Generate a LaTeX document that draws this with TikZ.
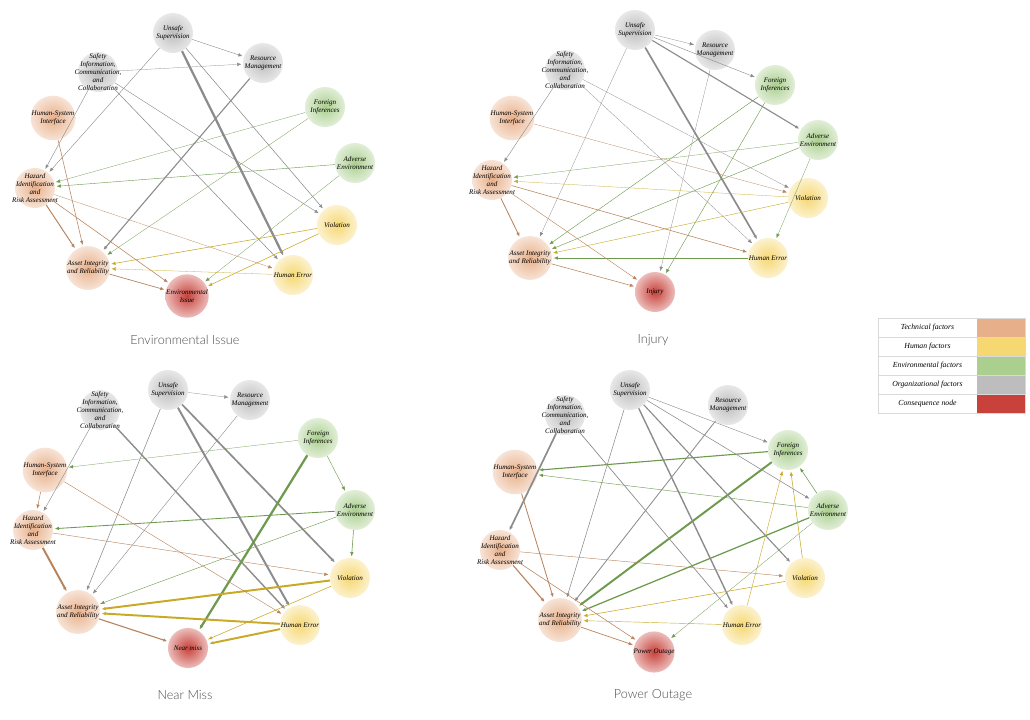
\documentclass[tikz,border=0pt]{standalone}
\usepackage{fontspec}
\setmainfont{Liberation Serif}
\newfontfamily\capfont{Lato Light}
\usetikzlibrary{arrows.meta}
\definecolor{techC}{HTML}{E8B08A}
\definecolor{humC}{HTML}{F6D873}
\definecolor{envC}{HTML}{AACF8E}
\definecolor{orgC}{HTML}{BDBDBD}
\definecolor{conC}{HTML}{C8413A}
\definecolor{T}{HTML}{B8845E}
\definecolor{H}{HTML}{C9A928}
\definecolor{E}{HTML}{6E9A4E}
\definecolor{O}{HTML}{8C8C8C}
\tikzset{
  factor/.style={circle, minimum size=1cm, inner sep=0pt, align=center,
    font=\fontsize{5}{5.6}\selectfont\itshape,
    inner color=#1, outer color=#1!35!white},
  tech/.style={factor=techC},
  hum/.style={factor=humC},
  env/.style={factor=envC},
  org/.style={factor=orgC},
  cons/.style={factor=conC},
  wide/.style={inner sep=-9pt},
  link/.style={-{Latex[length=3pt,width=2.5pt]}, shorten >=1pt},
  caption/.style={font=\capfont\fontsize{9}{10}\selectfont, text=black!70},
  legtext/.style={font=\fontsize{5.5}{6}\selectfont\itshape, anchor=center}
}
\begin{document}
\begin{tikzpicture}[x=0.025cm, y=-0.025cm]
\useasboundingbox (0,0) rectangle (1030,719);
%% panel A: Environmental Issue
\node[org]  (a-us) at (173,33)  {Unsafe\\Supervision};
\node[org]  (a-rm) at (263,63)  {Resource\\Management};
\node[org, wide]  (a-si) at (98,72)   {Safety\\Information,\\Communication,\\and\\Collaboration};
\node[tech] (a-hs) at (53,118)  {Human-System\\Interface};
\node[env]  (a-fi) at (325,107) {Foreign\\Inferences};
\node[env]  (a-ae) at (355,163) {Adverse\\Environment};
\node[tech, wide] (a-hz) at (35,188)  {Hazard\\Identification\\and\\Risk Assessment};
\node[hum]  (a-vi) at (337,225) {Violation};
\node[tech] (a-ai) at (88,268)  {Asset Integrity\\and Reliability};
\node[hum]  (a-he) at (293,275) {Human Error};
\node[cons] (a-co) at (187,296) {Environmental\\Issue};
\node[caption] (a-cap) at (185,340) {Environmental Issue};
\foreach \s/\t/\c/\w in {us/rm/O/0.3, si/rm/O/0.2, us/hz/O/0.3, si/hz/O/0.3,
    us/he/O/1.6, us/vi/O/0.4, si/he/O/0.4, si/vi/O/0.3, rm/ai/O/0.8,
    fi/hz/E/0.2, fi/ai/E/0.2, ae/hz/E/0.3, ae/co/E/0.2, vi/ai/H/0.4,
    vi/co/H/0.4, he/ai/H/0.2, hz/ai/T/0.7, hs/ai/T/0.4, hz/co/T/0.4,
    hz/he/T/0.2, ai/co/T/0.5}
  \draw[link, draw=\c, line width=\w pt] (a-\s) -- (a-\t);
%% panel B: Injury
\node[org]  (b-us) at (635,30)  {Unsafe\\Supervision};
\node[org]  (b-rm) at (715,50)  {Resource\\Management};
\node[org, wide]  (b-si) at (565,70)  {Safety\\Information,\\Communication,\\and\\Collaboration};
\node[tech] (b-hs) at (512,118) {Human-System\\Interface};
\node[env]  (b-fi) at (775,85)  {Foreign\\Inferences};
\node[env]  (b-ae) at (818,140) {Adverse\\Environment};
\node[tech, wide] (b-hz) at (492,180) {Hazard\\Identification\\and\\Risk Assessment};
\node[hum]  (b-vi) at (808,198) {Violation};
\node[tech] (b-ai) at (530,258) {Asset Integrity\\and Reliability};
\node[hum]  (b-he) at (768,258) {Human Error};
\node[cons] (b-co) at (655,292) {Injury};
\node[caption] (b-cap) at (653,340) {Injury};
\foreach \s/\t/\c/\w in {us/rm/O/0.2, us/fi/O/0.3, us/ae/O/0.8, us/he/O/1.2,
    si/hz/O/0.3, si/vi/O/0.2, si/he/O/0.2, us/ai/O/0.2, rm/co/O/0.2,
    fi/ai/E/0.3, fi/co/E/0.3, ae/hz/E/0.2, ae/ai/E/0.3, ae/he/E/0.2,
    vi/hz/H/0.2, vi/ai/H/0.3, he/ai/E/0.5, hz/ai/T/0.6, hz/co/T/0.3,
    hz/he/T/0.4, hs/vi/T/0.2, ai/co/T/0.4}
  \draw[link, draw=\c, line width=\w pt] (b-\s) -- (b-\t);
%% panel C: Near Miss
\node[org]  (c-us) at (168,390) {Unsafe\\Supervision};
\node[org]  (c-rm) at (250,400) {Resource\\Management};
\node[org, wide]  (c-si) at (100,410) {Safety\\Information,\\Communication,\\and\\Collaboration};
\node[tech] (c-hs) at (45,470)  {Human-System\\Interface};
\node[env]  (c-fi) at (318,438) {Foreign\\Inferences};
\node[env]  (c-ae) at (355,510) {Adverse\\Environment};
\node[tech, wide] (c-hz) at (33,530)  {Hazard\\Identification\\and\\Risk Assessment};
\node[hum]  (c-vi) at (350,578) {Violation};
\node[tech] (c-ai) at (78,612)  {Asset Integrity\\and Reliability};
\node[hum]  (c-he) at (300,625) {Human Error};
\node[cons] (c-co) at (188,648) {Near miss};
\node[caption] (c-cap) at (185,695) {Near Miss};
\foreach \s/\t/\c/\w in {us/rm/O/0.2, si/hz/O/0.3, us/he/O/1.4, us/vi/O/1.2,
    si/he/O/1.0, rm/ai/O/0.3, us/ai/O/0.4, fi/co/E/1.6, fi/ae/E/0.3,
    fi/hs/E/0.2, ae/hz/E/0.6, ae/vi/E/0.4, ae/ai/E/0.3, vi/ai/H/1.4,
    he/ai/H/1.4, he/co/H/1.4, vi/co/H/0.4, hz/ai/T/1.4, hs/hz/T/0.4,
    hs/he/T/0.3, hz/vi/T/0.3, ai/co/T/0.8}
  \draw[link, draw=\c, line width=\w pt] (c-\s) -- (c-\t);
%% panel D: Power Outage
\node[org]  (d-us) at (630,390) {Unsafe\\Supervision};
\node[org]  (d-rm) at (728,405) {Resource\\Management};
\node[org, wide]  (d-si) at (565,415) {Safety\\Information,\\Communication,\\and\\Collaboration};
\node[tech] (d-hs) at (515,472) {Human-System\\Interface};
\node[env]  (d-fi) at (788,450) {Foreign\\Inferences};
\node[env]  (d-ae) at (828,510) {Adverse\\Environment};
\node[tech, wide] (d-hz) at (500,550) {Hazard\\Identification\\and\\Risk Assessment};
\node[hum]  (d-vi) at (805,578) {Violation};
\node[tech] (d-ai) at (560,620) {Asset Integrity\\and Reliability};
\node[hum]  (d-he) at (742,625) {Human Error};
\node[cons] (d-co) at (654,652) {Power Outage};
\node[caption] (d-cap) at (653,695) {Power Outage};
\foreach \s/\t/\c/\w in {fi/hs/E/0.8, ae/hs/E/0.3, fi/ai/E/1.4, ae/ai/E/0.9,
    ae/fi/E/0.4, si/hz/O/1.2, us/he/O/1.0, us/vi/O/0.8, us/ae/O/0.4,
    us/ai/O/0.4, rm/ai/O/0.6, si/he/O/0.5, us/fi/O/0.3, hz/ai/T/0.8,
    hs/ai/T/0.6, hz/co/T/0.4, ai/co/T/0.5, hz/vi/T/0.3, vi/fi/H/0.4,
    he/fi/H/0.3, vi/ai/H/0.4, he/ai/H/0.3, ae/co/E/0.2}
  \draw[link, draw=\c, line width=\w pt] (d-\s) -- (d-\t);
%% legend
\foreach \txt/\col [count=\i] in {Technical factors/techC, Human factors/humC,
    Environmental factors/envC, Organizational factors/orgC, Consequence node/conC}{
  \fill[\col] (977,299+19*\i) rectangle (1025,318+19*\i);
  \draw[black!15, line width=0.3pt] (878,299+19*\i) rectangle (1025,318+19*\i);
  \node[legtext] (leg-\i) at (927.5,308.5+19*\i) {\txt};
}
\end{tikzpicture}
\end{document}
